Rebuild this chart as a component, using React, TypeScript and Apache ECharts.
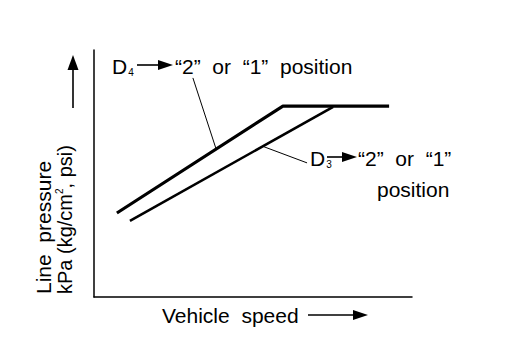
import React, { useEffect, useRef } from "react";
import * as echarts from "echarts";

// Schematic data (relative units, 0-100 on each axis)
const d4Line: number[][] = [
  [7.2, 34.0],
  [59.4, 77.3],
  [92.8, 77.3],
];
const d3Line: number[][] = [
  [11.3, 30.8],
  [75.2, 77.0],
];
const d4Leader: number[][] = [
  [31.1, 88.7],
  [38.4, 59.9],
];
const d3Leader: number[][] = [
  [53.1, 61.0],
  [67.0, 54.3],
];

const xTitle = "Vehicle  speed";
const yTitle1 = "Line  pressure";
const FONT = "Liberation Sans, Arial, Helvetica, sans-serif";
const FS = 21;

export default function App() {
  const ref = useRef<HTMLDivElement>(null);
  useEffect(() => {
    if (!ref.current) return;
    const chart = echarts.init(ref.current, null, { renderer: "svg" });
    const txt = (x: number, y: number, text: string, extra: any = {}) => ({
      type: "text",
      x,
      y,
      style: {
        text,
        fill: "#000",
        fontFamily: FONT,
        fontSize: FS,
        verticalAlign: "middle",
        align: "left",
      },
      ...extra,
    });
    const arrowH = (x1: number, x2: number, y: number) => [
      { type: "line", shape: { x1, y1: y, x2: x2 - 10, y2: y }, style: { stroke: "#000", lineWidth: 1.6 } },
      {
        type: "polygon",
        shape: { points: [[x2 - 15, y - 5], [x2, y], [x2 - 15, y + 5]] },
        style: { fill: "#000" },
      },
    ];
    const subRich = {
      d: { fontSize: FS, fontFamily: FONT, fill: "#000" },
      s: { fontSize: 10, fontFamily: FONT, fill: "#000", padding: [12, 0, 0, 1] },
    };
    chart.setOption({
      animation: false,
      grid: { left: 94, top: 50, width: 318, height: 247 },
      xAxis: {
        type: "value",
        min: 0,
        max: 100,
        axisLine: { show: true, lineStyle: { color: "#000", width: 1.5 } },
        axisTick: { show: false },
        axisLabel: { show: false },
        splitLine: { show: false },
      },
      yAxis: {
        type: "value",
        min: 0,
        max: 100,
        axisLine: { show: true, lineStyle: { color: "#000", width: 1.5 } },
        axisTick: { show: false },
        axisLabel: { show: false },
        splitLine: { show: false },
      },
      series: [
        { type: "line", data: d4Line, symbol: "none", lineStyle: { color: "#000", width: 3.2 } },
        { type: "line", data: d3Line, symbol: "none", lineStyle: { color: "#000", width: 2.6 } },
        { type: "line", data: d4Leader, symbol: "none", lineStyle: { color: "#000", width: 1 } },
        { type: "line", data: d3Leader, symbol: "none", lineStyle: { color: "#000", width: 1 } },
      ],
      graphic: [
        {
          type: "text",
          x: 112,
          y: 66,
          style: { text: "{d|D}{s|4}", rich: subRich, verticalAlign: "middle", align: "left" },
        },
        ...arrowH(137, 173, 65),
        txt(175, 66, "“2”  or  “1”  position"),
        {
          type: "text",
          x: 310,
          y: 158,
          style: { text: "{d|D}{s|3}", rich: subRich, verticalAlign: "middle", align: "left" },
        },
        ...arrowH(327, 357, 157),
        txt(358, 158, "“2”  or  “1”"),
        txt(377, 189, "position"),
        txt(162, 315, xTitle),
        ...arrowH(308, 368, 315),
        txt(43, 294, yTitle1, { rotation: Math.PI / 2 }),
        {
          type: "text",
          x: 65,
          y: 294,
          rotation: Math.PI / 2,
          style: {
            text: "{d|kPa (kg/cm}{u|2}{d|, psi)}",
            verticalAlign: "middle",
            align: "left",
            rich: {
              d: { fontSize: 20, fontFamily: FONT, fill: "#000" },
              u: { fontSize: 10, fontFamily: FONT, fill: "#000", padding: [0, 0, 11, 0] },
            },
          },
        },
        { type: "line", shape: { x1: 73, y1: 108, x2: 73, y2: 66 }, style: { stroke: "#000", lineWidth: 1.6 } },
        {
          type: "polygon",
          shape: { points: [[67.5, 70], [73, 55], [78.5, 70]] },
          style: { fill: "#000" },
        },
      ],
    });
    return () => chart.dispose();
  }, []);
  return <div ref={ref} style={{ position: "absolute", left: 0, top: 0, width: 512, height: 364 }} />;
}
